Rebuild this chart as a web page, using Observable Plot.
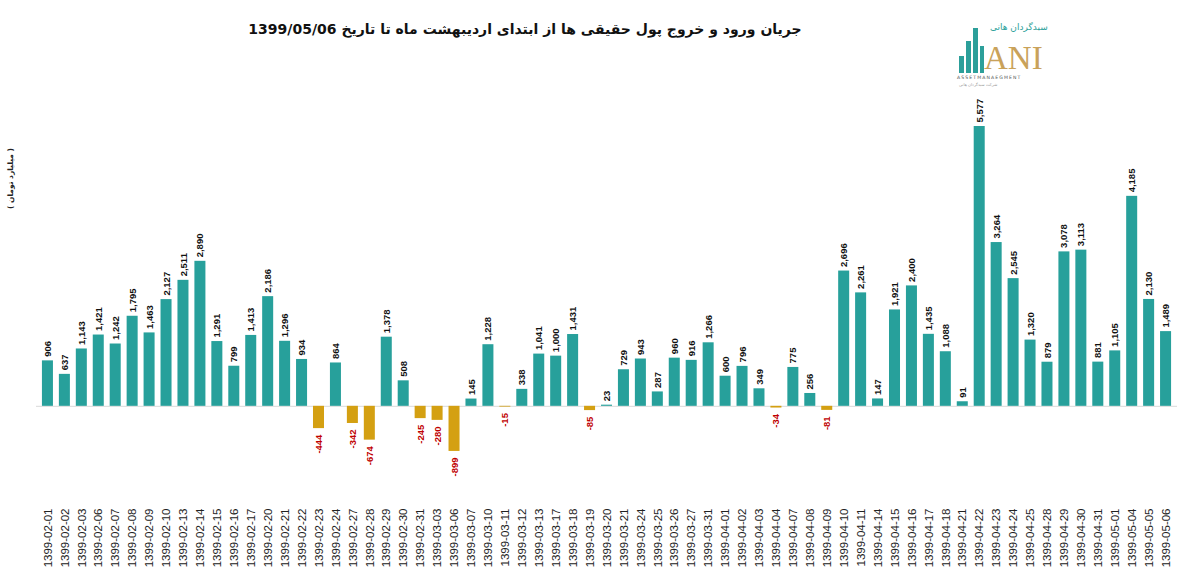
<!DOCTYPE html>
<html>
<head>
<meta charset="utf-8">
<script src="https://cdn.jsdelivr.net/npm/d3@7"></script>
<script src="https://cdn.jsdelivr.net/npm/@observablehq/plot@0.6"></script>
<style>
  html, body { margin: 0; padding: 0; background: #fff; }
  #wrap { position: relative; width: 1182px; height: 583px; overflow: hidden; }
  #title { position: absolute; left: 0; width: 1050px; top: 21px; text-align: center;
    font-family: "DejaVu Sans", sans-serif; font-weight: bold; font-size: 14px; color: #111; direction: rtl; }
  #ylab { position: absolute; left: -20px; top: 174px; transform: rotate(-90deg);
    font-family: "DejaVu Sans", sans-serif; font-weight: bold; font-size: 7.5px; color: #222; white-space: nowrap; direction: rtl; }
  #logo { position: absolute; left: 954px; top: 18px; width: 88px; height: 72px; font-family: "Liberation Serif", serif; }
  #logo .b { position: absolute; bottom: 17px; background: #2c9f9a; }
  #logo .ani { position: absolute; left: 30px; top: 24px; font-size: 33px; color: #c9a25a; letter-spacing: 0px; line-height: 33px; }
  #logo .fa { position: absolute; left: 36px; top: 4px; font-family: "DejaVu Sans", sans-serif; font-size: 9px; color: #2c9f9a; direction: rtl; white-space: nowrap; }
  #logo .en { position: absolute; left: 3px; top: 57px; font-family: "DejaVu Sans", sans-serif; font-size: 4.6px; color: #555; letter-spacing: 1.1px; white-space: nowrap; }
  #logo .sub { position: absolute; left: 5px; top: 64px; font-family: "DejaVu Sans", sans-serif; font-size: 4px; color: #999; white-space: nowrap; direction: rtl; }
</style>
</head>
<body>
<div id="wrap">
  <div id="chart"></div>
  <div id="title">جریان ورود و خروج پول حقیقی ها از ابتدای اردیبهشت ماه تا تاریخ 1399/05/06</div>
  <div id="ylab">( میلیارد تومان )</div>
  <div id="logo">
    <div class="b" style="left:5px;width:5px;height:17px"></div>
    <div class="b" style="left:12px;width:5px;height:32px"></div>
    <div class="b" style="left:19px;width:5px;height:45px"></div>
    <div class="b" style="left:26px;width:4px;height:27px"></div>
    <div class="fa">سبدگردان هانی</div>
    <div class="ani">ANI</div>
    <div class="en">ASSETMANAEGMENT</div>
    <div class="sub">شرکت سبدگردان هانی</div>
  </div>
</div>
<script>
const dates = [
  "1399-02-01","1399-02-02","1399-02-03","1399-02-06","1399-02-07","1399-02-08","1399-02-09","1399-02-10",
  "1399-02-13","1399-02-14","1399-02-15","1399-02-16","1399-02-17","1399-02-20","1399-02-21","1399-02-22",
  "1399-02-23","1399-02-24","1399-02-27","1399-02-28","1399-02-29","1399-02-30","1399-02-31",
  "1399-03-03","1399-03-06","1399-03-07","1399-03-10","1399-03-11","1399-03-12","1399-03-13","1399-03-17",
  "1399-03-18","1399-03-19","1399-03-20","1399-03-21","1399-03-24","1399-03-25","1399-03-26","1399-03-27","1399-03-31",
  "1399-04-01","1399-04-02","1399-04-03","1399-04-04","1399-04-07","1399-04-08","1399-04-09","1399-04-10",
  "1399-04-11","1399-04-14","1399-04-15","1399-04-16","1399-04-17","1399-04-18","1399-04-21","1399-04-22",
  "1399-04-23","1399-04-24","1399-04-25","1399-04-28","1399-04-29","1399-04-30","1399-04-31",
  "1399-05-01","1399-05-04","1399-05-05","1399-05-06"
];
const values = [
  906, 637, 1143, 1421, 1242, 1795, 1463, 2127,
  2511, 2890, 1291, 799, 1413, 2186, 1296, 934,
  -444, 864, -342, -674, 1378, 508, -245,
  -280, -899, 145, 1228, -15, 338, 1041, 1000,
  1431, -85, 23, 729, 943, 287, 960, 916, 1266,
  600, 796, 349, -34, 775, 256, -81, 2696,
  2261, 147, 1921, 2400, 1435, 1088, 91, 5577,
  3264, 2545, 1320, 879, 3078, 3113, 881,
  1105, 4185, 2130, 1489
];
const posColor = "#27a09b";
const negColor = "#d4a012";
const data = dates.map((d, i) => ({date: d, value: values[i]}));
const pos = data.filter(d => d.value >= 0);
const neg = data.filter(d => d.value < 0);
const fmt = d => d.value.toLocaleString("en-US");

const chart = Plot.plot({
  width: 1182,
  height: 583,
  marginTop: 126,
  marginBottom: 127,
  marginLeft: 36,
  marginRight: 5,
  style: {fontFamily: "Liberation Sans, sans-serif", background: "transparent"},
  x: {type: "band", domain: dates, padding: 0.35},
  y: {domain: [-1000, 5577], axis: null},
  marks: [
    Plot.ruleY([0], {stroke: "#d9d9d9", strokeWidth: 1}),
    Plot.barY(pos, {x: "date", y: "value", fill: posColor}),
    Plot.barY(neg, {x: "date", y: "value", fill: negColor}),
    Plot.text(pos, {x: "date", y: "value", text: fmt, rotate: -90, textAnchor: "start", dy: -4,
      fontSize: 9.5, fontWeight: "bold", fill: "#111"}),
    Plot.text(neg, {x: "date", y: "value", text: fmt, rotate: -90, textAnchor: "end", dy: 6,
      fontSize: 9.5, fontWeight: "bold", fill: "#c00000"}),
    Plot.axisX({tickRotate: -90, tickSize: 0, tickPadding: 52, fontSize: 11.5, fill: "#222", label: null})
  ]
});
document.getElementById("chart").appendChild(chart);
</script>
</body>
</html>
